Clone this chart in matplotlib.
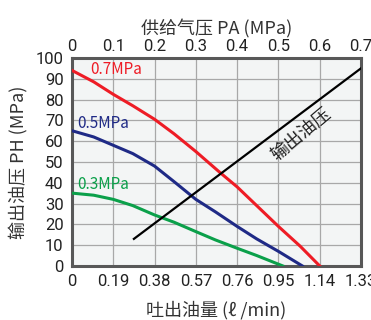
import matplotlib
matplotlib.use('Agg')
import matplotlib.pyplot as plt

# flow (l/min) vs output oil pressure (MPa) for three supply pressures
flow_07 = [0, 0.10, 0.19, 0.28, 0.38, 0.47, 0.57, 0.68, 0.76, 0.85, 0.95, 1.05, 1.14]
press_07 = [94, 88.5, 82.5, 77, 70.5, 63.5, 55, 45, 38, 29, 19, 9.5, 0]
flow_05 = [0, 0.10, 0.19, 0.28, 0.38, 0.47, 0.57, 0.66, 0.76, 0.85, 0.95, 1.06]
press_05 = [65, 62, 58, 54, 48, 40.5, 32, 26, 19, 13, 7, 0]
flow_03 = [0, 0.10, 0.19, 0.28, 0.38, 0.47, 0.57, 0.66, 0.76, 0.85, 0.97]
press_03 = [35, 34, 32, 29, 24.5, 21, 16.5, 12.5, 8.5, 5, 0]

# supply air pressure (MPa) vs output oil pressure
supply = [0.15, 0.70]
oil_out = [13, 95]

bottom_ticks = [0, 0.19, 0.38, 0.57, 0.76, 0.95, 1.14, 1.33]
bottom_labels = ['0', '0.19', '0.38', '0.57', '0.76', '0.95', '1.14', '1.33']
top_ticks = [0, 0.1, 0.2, 0.3, 0.4, 0.5, 0.6, 0.7]
top_labels = ['0', '0.1', '0.2', '0.3', '0.4', '0.5', '0.6', '0.7']
y_ticks = list(range(0, 101, 10))

cjk = ['Noto Sans CJK SC', 'DejaVu Sans']
tick_font = 'Roboto'

fig = plt.figure(figsize=(3.71, 3.20), dpi=100)
ax = fig.add_axes([0.194, 0.169, 0.779, 0.650])
ax.set_facecolor('#f3f5f5')

ax.plot(flow_07, press_07, color='#ee1c25', lw=2.2, zorder=3)
ax.plot(flow_05, press_05, color='#1f2a86', lw=2.2, zorder=3)
ax.plot(flow_03, press_03, color='#0ba04a', lw=2.2, zorder=3)

ax.set_xlim(0, 1.33)
ax.set_ylim(0, 100)
ax.set_xticks(bottom_ticks)
ax.set_xticklabels(bottom_labels)
ax.set_yticks(y_ticks)
ax.grid(True, color='#a8a8a8', lw=0.9)
ax.set_axisbelow(True)
ax.tick_params(length=0, labelsize=12, labelcolor='#222222')
ax.tick_params(axis='x', pad=6)
ax.tick_params(axis='y', pad=6)
for lab in ax.get_xticklabels() + ax.get_yticklabels():
    lab.set_family(tick_font)
for sp in ax.spines.values():
    sp.set_color('#585858')
    sp.set_linewidth(2.2)

ax.set_xlabel('吐出油量 (ℓ /min)', family=cjk, fontsize=13, labelpad=8, color='#333333')
ax.set_ylabel('输出油压 PH (MPa)', family=cjk, fontsize=13, labelpad=5, color='#333333')

ax2 = ax.twiny()
ax2.set_xlim(0, 0.7)
ax2.set_xticks(top_ticks)
ax2.set_xticklabels(top_labels)
ax2.tick_params(length=0, labelsize=12, pad=3, labelcolor='#222222')
for lab in ax2.get_xticklabels():
    lab.set_family(tick_font)
for sp in ax2.spines.values():
    sp.set_visible(False)
ax2.plot(supply, oil_out, color='black', lw=1.6, zorder=3)
ax2.set_xlabel('供给气压 PA (MPa)', family=cjk, fontsize=13, labelpad=3, color='#333333')

ax.text(0.083, 94.5, '0.7MPa', color='#ee1c25', family=cjk, fontsize=11, va='center')
ax.text(0.023, 68.5, '0.5MPa', color='#1f2a86', family=cjk, fontsize=11, va='center')
ax.text(0.023, 39, '0.3MPa', color='#0ba04a', family=cjk, fontsize=11, va='center')
ax.text(1.055, 63, '输出油压', family=cjk, fontsize=13, rotation=40,
        ha='center', va='center', color='#222222')

fig.savefig('out.png', dpi=100)
